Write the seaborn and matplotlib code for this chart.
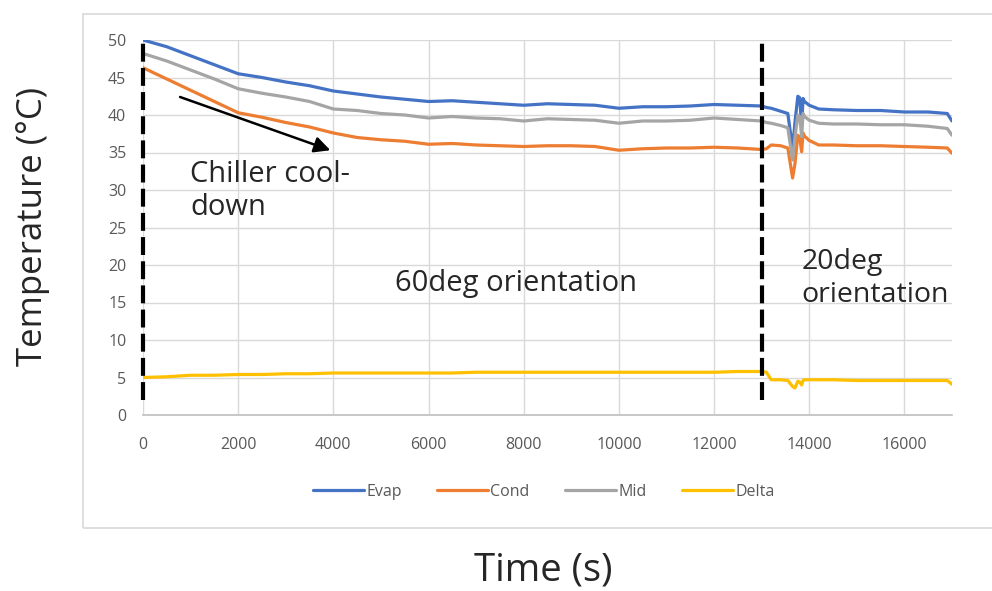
import numpy as np
import pandas as pd
import seaborn as sns
import matplotlib.pyplot as plt
from matplotlib.patches import Rectangle

# time stamps (s) shared by all four traces
time_s = [0, 500, 1000, 1500, 2000, 2500, 3000, 3500, 4000, 4500, 5000, 5500,
          6000, 6500, 7000, 7500, 8000, 8500, 9000, 9500, 10000, 10500, 11000,
          11500, 12000, 12500, 13000, 13100, 13200, 13400, 13550, 13650, 13700,
          13760, 13800, 13840, 13870, 13900, 14000, 14200, 14500, 15000, 15500,
          16000, 16500, 16900, 17000]

evap = [50.0, 49.1, 47.9, 46.7, 45.5, 45.0, 44.4, 43.9, 43.2, 42.8, 42.4, 42.1,
        41.8, 41.9, 41.7, 41.5, 41.3, 41.5, 41.4, 41.3, 40.9, 41.1, 41.1,
        41.2, 41.4, 41.3, 41.2, 41.0, 40.9, 40.5, 40.2, 35.5, 39.0,
        42.5, 42.3, 38.5, 42.2, 41.8, 41.3, 40.8, 40.7, 40.6, 40.6,
        40.4, 40.4, 40.2, 39.2]

cond = [46.3, 44.8, 43.3, 41.8, 40.3, 39.7, 39.0, 38.4, 37.6, 37.0, 36.7, 36.5,
        36.1, 36.2, 36.0, 35.9, 35.8, 35.9, 35.9, 35.8, 35.3, 35.5, 35.6,
        35.6, 35.7, 35.6, 35.4, 35.5, 36.0, 35.9, 35.6, 31.6, 33.5,
        37.3, 37.0, 35.1, 37.6, 37.2, 36.6, 36.0, 36.0, 35.9, 35.9,
        35.8, 35.7, 35.6, 34.9]

mid = [48.2, 47.2, 46.0, 44.8, 43.5, 42.9, 42.4, 41.8, 40.8, 40.6, 40.2, 40.0,
       39.6, 39.8, 39.6, 39.5, 39.2, 39.5, 39.4, 39.3, 38.9, 39.2, 39.2,
       39.3, 39.6, 39.4, 39.2, 39.0, 38.9, 38.6, 38.3, 34.0, 37.0,
       40.0, 39.8, 37.1, 40.2, 39.8, 39.3, 38.9, 38.8, 38.8, 38.7,
       38.7, 38.5, 38.2, 37.3]

delta = [5.0, 5.1, 5.3, 5.3, 5.4, 5.4, 5.5, 5.5, 5.6, 5.6, 5.6, 5.6,
         5.6, 5.6, 5.7, 5.7, 5.7, 5.7, 5.7, 5.7, 5.7, 5.7, 5.7,
         5.7, 5.7, 5.8, 5.8, 5.7, 4.7, 4.7, 4.6, 3.8, 3.6,
         4.5, 4.4, 4.0, 4.6, 4.7, 4.7, 4.7, 4.7, 4.6, 4.6,
         4.6, 4.6, 4.6, 4.1]

series_names = ['Evap', 'Cond', 'Mid', 'Delta']
series_colors = ['#4472C4', '#ED7D31', '#A5A5A5', '#FFC000']
x_ticks = [0, 2000, 4000, 6000, 8000, 10000, 12000, 14000, 16000]
y_ticks = [0, 5, 10, 15, 20, 25, 30, 35, 40, 45, 50]
switch_times = [0, 13000]

df = pd.DataFrame({'Time': time_s, 'Evap': evap, 'Cond': cond, 'Mid': mid, 'Delta': delta})
long_df = df.melt(id_vars='Time', var_name='Series', value_name='Temp')

sns.set_theme(style='white')
plt.rcParams['font.family'] = ['Open Sans', 'DejaVu Sans']

fig = plt.figure(figsize=(9.92, 5.91), dpi=100)
ax = fig.add_axes([143 / 992, 1 - 415 / 591, (952 - 143) / 992, (415 - 40) / 591])

sns.lineplot(data=long_df, x='Time', y='Temp', hue='Series', hue_order=series_names,
             palette=series_colors, linewidth=2.3, ax=ax, legend=True)

for t in switch_times:
    ax.plot([t, t], [2, 50], color='black', lw=3, dashes=(4.3, 1.5), zorder=5,
            solid_capstyle='butt', dash_capstyle='butt', clip_on=False)

ax.set_xlim(0, 17000)
ax.set_ylim(0, 50)
ax.set_xticks(x_ticks)
ax.set_yticks(y_ticks)
ax.grid(True, color='#D9D9D9', lw=1)
ax.set_axisbelow(True)
for s in ['top', 'right', 'left']:
    ax.spines[s].set_visible(False)
ax.spines['bottom'].set_color('#BFBFBF')
ax.spines['bottom'].set_linewidth(1.2)
ax.tick_params(axis='both', length=0, labelsize=11.5, labelcolor='#595959')
ax.tick_params(axis='y', pad=12)
ax.tick_params(axis='x', pad=16)
ax.set_xlabel('')
ax.set_ylabel('')

# annotations
ax.annotate('', xy=(3937, 35.3), xytext=(779, 42.4),
            arrowprops=dict(arrowstyle='-|>', color='black', lw=1.8,
                            mutation_scale=24, shrinkA=0, shrinkB=0))
ax.text(990, 29.9, 'Chiller cool-\ndown', fontsize=21, va='center', ha='left',
        linespacing=1.2)
ax.text(7832, 17.6, '60deg orientation', fontsize=21, va='center', ha='center')
ax.text(13832, 18.2, '20deg\norientation', fontsize=20.5, va='center', ha='left',
        linespacing=1.2)

handles, labels = ax.get_legend_handles_labels()
leg = fig.legend(handles, labels, loc='center', bbox_to_anchor=(0.548, 1 - 492 / 591),
                 ncol=4, frameon=False, fontsize=11.5, handlelength=3.2,
                 handletextpad=0.15, columnspacing=2.2)
for txt in leg.get_texts():
    txt.set_color('#595959')
ax.get_legend().remove()

# chart area border
fig.patches.append(Rectangle((83 / 992, 1 - 528 / 591), 1.0, (528 - 14) / 591,
                             transform=fig.transFigure, fill=False,
                             edgecolor='#D9D9D9', lw=1.2))

fig.text(33 / 992, 1 - 226 / 591, 'Temperature (\u00b0C)', rotation=90,
         fontsize=25, ha='center', va='center')
fig.text(543 / 992, 1 - 570 / 591, 'Time (s)', fontsize=27.5, ha='center', va='center')

fig.savefig('out.png', dpi=100)
